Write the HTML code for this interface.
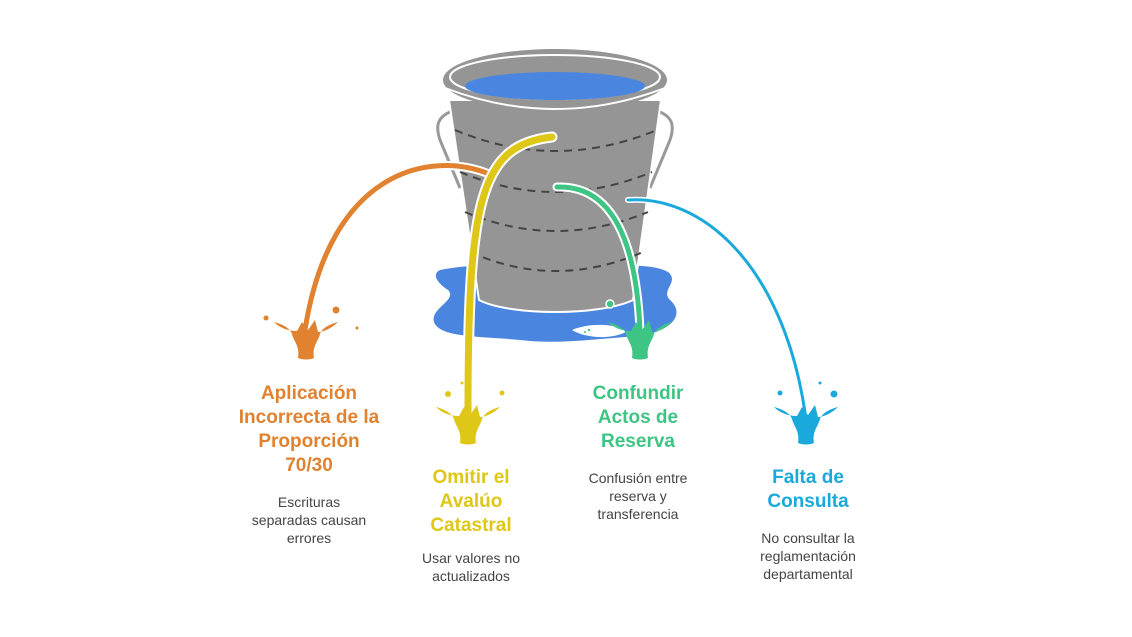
<!DOCTYPE html>
<html><head><meta charset="utf-8"><style>
body{margin:0;background:#fff;width:1132px;height:637px;overflow:hidden;font-family:"Liberation Sans",sans-serif}
svg{position:absolute;left:0;top:0}
.t{position:absolute;text-align:center;font-weight:bold;font-size:19px;line-height:24px;transform:translateX(-50%)}
.d{position:absolute;text-align:center;font-size:14px;line-height:18px;color:#444;transform:translateX(-50%)}
</style></head><body>
<svg width="1132" height="637" viewBox="0 0 1132 637">
<defs>
<path id="sp" d="M-32,-6 C-24,-4 -16,0 -14,6 C-12,14 -6,18 -8,30 C-4,32 4,32 8,30 C6,18 12,14 14,6 C16,0 24,-4 32,-6 C26,0 18,4 12,4 L9,-8 L2,2 L-4,-6 L-9,3 C-18,3 -26,0 -32,-6Z"/>
</defs>
<path d="M440,270 C480,262 520,266 560,268 C610,266 650,262 668,272 C680,282 660,290 670,300 C684,312 676,330 640,336 C600,338 560,345 520,340 C480,336 440,338 434,322 C430,308 458,300 448,290 C436,282 432,274 440,270Z" fill="#4A86E0"/>
<path d="M572,330 C590,322 620,324 626,332 C610,340 585,338 572,330Z" fill="#fff"/>
<path d="M450,112 C436,118 436,128 440,140 L460,188" fill="none" stroke="#999" stroke-width="3"/>
<path d="M660,112 C674,118 674,128 670,140 L650,188" fill="none" stroke="#999" stroke-width="3"/>
<path d="M449,100 L661,100 L633,300 C600,316 510,316 479,300 Z" fill="#959595" stroke="#fff" stroke-width="2"/>
<g fill="none" stroke="#444" stroke-width="2" stroke-dasharray="8,6">
<path d="M455,130 Q555,172 657,130"/>
<path d="M460,172 Q555,212 652,172"/>
<path d="M465,212 Q555,250 648,212"/>
<path d="M470,252 Q555,290 643,252"/>
</g>
<ellipse cx="555" cy="80" rx="112" ry="31" fill="#959595"/>
<ellipse cx="555" cy="77" rx="105" ry="22" fill="#959595" stroke="#fff" stroke-width="2"/>
<ellipse cx="555" cy="86" rx="90" ry="14" fill="#4A86E0"/>
<path d="M445,88 Q555,130 665,88" fill="none" stroke="#fff" stroke-width="2"/>
<g fill="none" stroke-linecap="round">
<path d="M489,174 C430,150 330,170 305,330" stroke="#fff" stroke-width="9"/>
<path d="M489,174 C430,150 330,170 305,330" stroke="#E0822F" stroke-width="5"/>
<path d="M552,137 C480,145 468,200 468,412" stroke="#fff" stroke-width="11"/>
<path d="M552,137 C480,145 468,200 468,412" stroke="#DEC716" stroke-width="7"/>
<path d="M557,187 C612,185 636,240 640,330" stroke="#fff" stroke-width="9"/>
<path d="M557,187 C612,185 636,240 640,330" stroke="#3EC483" stroke-width="5"/>
<path d="M628,200 C700,195 782,262 805,412" stroke="#fff" stroke-width="6"/>
<path d="M628,200 C700,195 782,262 805,412" stroke="#1BA9DC" stroke-width="3"/>
</g>
<g fill="#E0822F"><use href="#sp" x="306" y="328"/><circle cx="266" cy="318" r="2.5"/><circle cx="336" cy="310" r="3.5"/><circle cx="357" cy="328" r="1.5"/></g>
<g fill="#DEC716"><use href="#sp" x="468" y="413"/><circle cx="448" cy="394" r="3"/><circle cx="462" cy="383" r="1.5"/><circle cx="502" cy="393" r="2.5"/></g>
<g fill="#3EC483"><use href="#sp" x="640" y="328"/><circle cx="610" cy="304" r="4" stroke="#fff" stroke-width="1.5"/><circle cx="589" cy="330" r="1.2"/><circle cx="585" cy="332" r="1"/></g>
<g fill="#1BA9DC"><use href="#sp" x="806" y="413"/><circle cx="780" cy="393" r="2.5"/><circle cx="820" cy="383" r="1.5"/><circle cx="834" cy="394" r="3.5"/></g>
</svg>
<div class="t" style="left:309px;top:382px;color:#E0822F">Aplicación<br>Incorrecta de la<br>Proporción<br>70/30</div>
<div class="d" style="left:309px;top:493px">Escrituras<br>separadas causan<br>errores</div>
<div class="t" style="left:471px;top:466px;color:#DEC716">Omitir el<br>Avalúo<br>Catastral</div>
<div class="d" style="left:471px;top:549px">Usar valores no<br>actualizados</div>
<div class="t" style="left:638px;top:382px;color:#3EC483">Confundir<br>Actos de<br>Reserva</div>
<div class="d" style="left:638px;top:469px">Confusión entre<br>reserva y<br>transferencia</div>
<div class="t" style="left:808px;top:466px;color:#1BA9DC">Falta de<br>Consulta</div>
<div class="d" style="left:808px;top:529px">No consultar la<br>reglamentación<br>departamental</div>
</body></html>
